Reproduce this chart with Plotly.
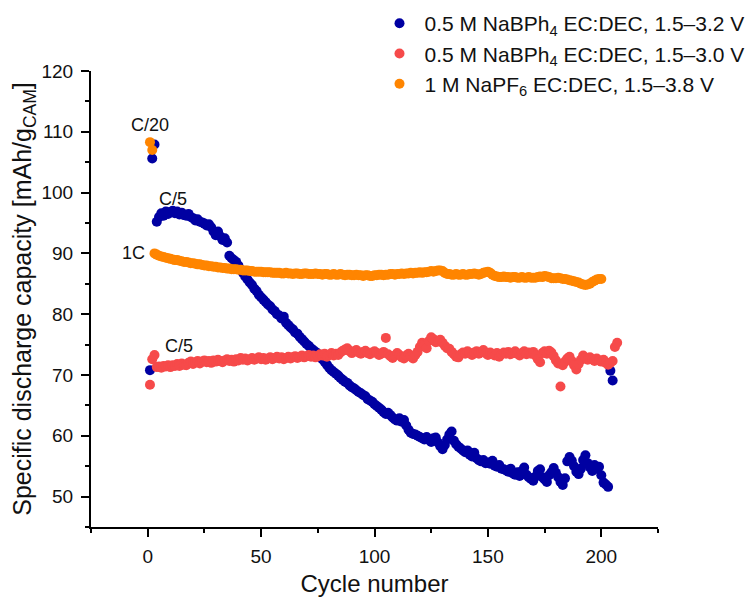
import plotly.graph_objects as go

# ---- data ----
blue_name = "0.5 M NaBPh<sub>4</sub> EC:DEC, 1.5–3.2 V"
red_name = "0.5 M NaBPh<sub>4</sub> EC:DEC, 1.5–3.0 V"
orange_name = "1 M NaPF<sub>6</sub> EC:DEC, 1.5–3.8 V"

blue_vals = [
    70.8, 105.6, 107.9, 95.2, 96.0, 96.6, 96.2, 96.9, 96.5, 96.8,
    97.0, 96.6, 96.9, 96.4, 96.7, 96.3, 96.2, 96.5, 96.0, 95.8,
    95.4, 95.6, 95.2, 95.1, 94.9, 94.6, 94.8, 94.3, 93.6, 93.0,
    93.6, 92.8, 92.2, 92.5, 91.8, 89.6, 89.2, 88.9, 88.6, 88.0,
    87.3, 86.8, 86.2, 85.7, 85.2, 84.8, 84.2, 83.8, 83.2, 82.8,
    82.4, 82.0, 81.6, 81.3, 80.8, 80.5, 80.0, 79.8, 79.3, 79.6,
    78.6, 78.2, 77.8, 77.5, 77.0, 76.8, 76.3, 75.9, 75.5, 75.1,
    74.8, 74.4, 74.1, 73.8, 73.5, 73.0, 72.6, 72.2, 71.7, 71.2,
    70.8, 70.5, 70.2, 69.9, 69.5, 69.2, 68.9, 68.7, 68.3, 68.0,
    67.8, 67.5, 67.2, 67.0, 66.7, 66.5, 66.0, 65.8, 65.6, 65.2,
    64.9, 64.6, 64.3, 63.9, 63.6, 63.8, 63.4, 63.0, 62.7, 62.5,
    62.9, 62.3, 62.6, 61.7, 61.0, 60.5, 60.3, 60.2, 60.0, 59.8,
    59.6, 59.4, 59.8, 59.3, 59.0, 59.6, 59.7, 58.9, 58.3, 57.8,
    58.5, 59.4, 60.2, 60.7, 59.2, 58.6, 58.2, 57.9, 57.6, 57.3,
    57.6, 56.9, 56.6, 57.2, 56.3, 56.0, 55.8, 56.0, 55.5, 55.6,
    55.4, 55.9, 55.1, 54.9, 55.2, 54.6, 54.5, 54.3, 54.1, 54.6,
    53.8, 53.6, 54.0, 53.4, 54.2, 54.8, 53.6, 53.2, 52.9, 52.6,
    53.3, 54.2, 54.5, 53.2, 52.8, 52.4, 53.5, 54.0, 54.7, 53.9,
    53.2, 52.4, 51.9, 53.0, 55.8, 56.5, 55.9, 55.0, 54.1, 53.7,
    54.6, 56.0, 56.8, 55.5, 54.8, 54.2, 55.2, 54.6, 54.9, 53.5,
    52.3, 52.0, 51.6, 70.7, 69.1,
]

red_vals = [
    68.4, 72.6, 73.3, 71.3, 71.4, 71.2, 71.5, 71.4, 71.6, 71.3,
    71.6, 71.5, 71.8, 71.5, 71.9, 71.7, 71.6, 72.0, 72.2, 71.8,
    72.1, 72.3, 71.9, 72.2, 72.4, 72.1, 72.3, 72.0, 72.4, 72.2,
    72.5, 72.3, 72.1, 72.4, 72.6, 72.3, 72.5, 72.2, 72.6, 72.4,
    72.8, 72.5, 72.7, 72.4, 72.6, 72.8, 72.5, 72.7, 72.9, 72.6,
    72.8, 72.5, 72.7, 72.9, 72.6, 72.8, 73.0, 72.7, 72.9, 72.6,
    72.8, 73.0, 72.7, 72.9, 73.1, 72.8, 73.0, 73.2, 72.9, 73.1,
    73.3, 73.0, 73.2, 72.9, 73.1, 73.4, 73.2, 73.5, 73.0, 73.3,
    73.6, 73.2, 73.5, 73.3, 73.7, 74.0, 74.2, 74.4, 73.9, 73.6,
    73.9, 74.1, 73.7, 73.5, 73.8, 74.0, 73.6, 73.4, 73.7, 73.9,
    73.6, 73.3, 73.5, 73.8, 76.1, 73.4, 73.1, 72.8, 73.2, 73.6,
    73.3, 72.9, 72.7, 73.2, 73.5, 73.0, 72.7, 73.3, 73.8, 74.6,
    75.3, 75.0, 74.4, 75.6, 76.2, 75.9, 75.4, 75.5, 75.8, 75.3,
    74.8, 74.4, 74.3, 73.8, 73.4, 73.0, 72.9, 73.4, 73.7, 73.5,
    73.9, 73.6, 73.3, 73.7, 73.9, 73.5, 73.8, 74.1, 73.6, 73.3,
    73.7, 73.5, 73.2, 73.6, 73.0, 73.4, 73.7, 73.5, 73.8, 73.4,
    73.6, 73.9, 73.5, 73.2, 73.6, 73.9, 73.4, 73.7, 73.5, 73.8,
    73.2, 72.6, 72.1, 73.6, 73.9, 73.5, 74.0, 73.7, 73.1, 72.4,
    71.9, 68.1, 71.6, 72.2, 72.7, 73.0, 72.3, 71.6, 70.9, 71.8,
    72.5, 73.2, 72.8, 72.5, 72.9, 72.6, 72.3, 72.7, 72.4, 72.2,
    72.5, 72.0, 71.7, 72.0, 72.3, 74.6, 75.3,
]

orange_vals = [
    108.3, 107.0, 90.0, 89.8, 89.6, 89.5, 89.4, 89.3, 89.2, 89.1,
    89.0, 88.9, 88.9, 88.8, 88.7, 88.6, 88.6, 88.5, 88.4, 88.4,
    88.3, 88.2, 88.2, 88.1, 88.0, 88.0, 87.9, 87.9, 87.8, 87.8,
    87.7, 87.7, 87.6, 87.6, 87.5, 87.5, 87.4, 87.4, 87.4, 87.3,
    87.3, 87.2, 87.2, 87.2, 87.1, 87.1, 87.0, 87.0, 87.0, 87.0,
    86.9, 86.9, 86.9, 86.9, 86.8, 86.8, 86.8, 86.8, 86.7, 86.7,
    86.8, 86.7, 86.7, 86.6, 86.7, 86.7, 86.6, 86.6, 86.7, 86.7,
    86.6, 86.6, 86.6, 86.7, 86.6, 86.6, 86.5, 86.6, 86.6, 86.5,
    86.5, 86.6, 86.5, 86.5, 86.6, 86.5, 86.4, 86.5, 86.5, 86.4,
    86.4, 86.5, 86.4, 86.4, 86.3, 86.4, 86.4, 86.3, 86.3, 86.4,
    86.4, 86.5, 86.5, 86.4, 86.5, 86.5, 86.6, 86.6, 86.5, 86.6,
    86.6, 86.7, 86.6, 86.7, 86.7, 86.8, 86.7, 86.8, 86.8, 86.9,
    86.8, 86.9, 86.9, 87.0, 87.1, 87.0, 87.1, 87.2, 87.2, 87.1,
    86.8, 86.6, 86.6, 86.5, 86.5, 86.6, 86.5, 86.5, 86.6, 86.5,
    86.5, 86.6, 86.6, 86.7, 86.6, 86.5, 86.6, 86.8, 86.9, 87.0,
    86.8, 86.5, 86.3, 86.2, 86.1, 86.1, 86.2, 86.1, 86.1, 86.0,
    86.1, 86.1, 86.0, 86.0, 86.1, 86.0, 86.0, 86.1, 86.0, 86.0,
    86.0, 86.1, 86.2, 86.1, 86.3, 86.2, 86.1, 85.9, 85.9, 85.9,
    86.0, 85.9, 85.8, 85.8, 85.7, 85.6, 85.5, 85.4, 85.3, 85.2,
    85.0, 84.9, 84.8, 84.9, 85.0, 85.3, 85.5, 85.7, 85.8, 85.8,
]

rate_labels = ["C/20", "C/5", "1C", "C/5"]
rate_label_x = [1.2, 11.0, -0.3, 13.7]
rate_label_y = [111.1, 98.9, 90.1, 74.8]

x_ticks = [0, 50, 100, 150, 200]
y_ticks = [50, 60, 70, 80, 90, 100, 110, 120]

FONT = "Arial, 'Liberation Sans', Helvetica, sans-serif"

series = [
    (blue_name, blue_vals, "#0000A2"),
    (red_name, red_vals, "#F64A4A"),
    (orange_name, orange_vals, "#FF8500"),
]

fig = go.Figure()
for name, vals, color in series:
    fig.add_trace(go.Scatter(
        x=list(range(1, len(vals) + 1)), y=vals, mode="markers", name=name,
        marker=dict(size=10, color=color, line=dict(width=0)),
    ))

for txt, ax, ay in zip(rate_labels, rate_label_x, rate_label_y):
    fig.add_annotation(x=ax, y=ay, text=txt, showarrow=False,
                       xanchor="right" if txt == "1C" else "center",
                       font=dict(family=FONT, size=18, color="#111111"))

axis_common = dict(
    showline=True, linecolor="black", linewidth=2, mirror=False,
    ticks="outside", ticklen=8, tickwidth=2, tickcolor="black",
    showgrid=False, zeroline=False,
    tickfont=dict(family=FONT, size=19, color="#111111"),
)

fig.update_xaxes(
    range=[-25, 225], tickvals=x_ticks, ticklabelstandoff=3,
    minor=dict(dtick=25, tick0=0, ticks="outside", ticklen=4, tickwidth=2, tickcolor="black"),
    title=dict(text="Cycle number", font=dict(family=FONT, size=24, color="#111111"), standoff=12),
    **axis_common,
)
fig.update_yaxes(
    range=[45, 120], tickvals=y_ticks, ticklabelstandoff=4,
    minor=dict(dtick=5, tick0=0, ticks="outside", ticklen=4, tickwidth=2, tickcolor="black"),
    title=dict(text="Specific discharge capacity [mAh/g<sub>CAM</sub>]",
               font=dict(family=FONT, size=25, color="#111111"), standoff=6),
    **axis_common,
)

# the page body adds an 8 px offset, so the figure is 8 px smaller and margins shifted
fig.update_layout(
    width=745, height=589,
    margin=dict(l=83, r=95, t=63, b=70, autoexpand=False),
    plot_bgcolor="white", paper_bgcolor="white",
    legend=dict(x=0.5, y=1.149, xanchor="left", yanchor="top",
                font=dict(family=FONT, size=21, color="#111111"),
                bgcolor="rgba(0,0,0,0)", itemwidth=40, tracegroupgap=0),
)

fig.write_html("out.html")
